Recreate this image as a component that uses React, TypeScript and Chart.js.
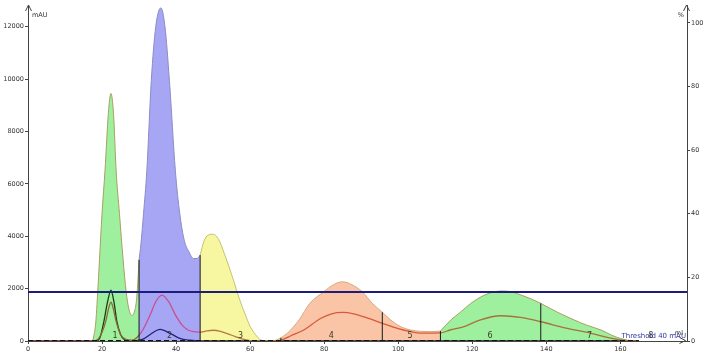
import React, { useEffect, useRef } from "react";
import { Chart, registerables } from "chart.js";

Chart.register(...registerables);

// ---- Main UV trace (mAU) ----
const uvVolume = [
  0, 16, 17.5, 18.3, 18.8, 19.3, 20.0, 20.8, 21.7, 22.4, 23.1, 23.8, 24.7, 25.7, 26.5, 27.2, 28.1, 28.8, 29.4,
  30.0, 30.5, 31.2, 32.1, 33.3, 34.5, 35.9, 37.0, 38.2, 39.8, 41.0, 42.2, 43.5, 44.7, 45.7,
  46.5, 47.5, 48.7, 50.0, 51.5, 53.0, 54.5, 55.5, 57.0, 58.7, 60.0, 61.0, 62.5, 64.0, 66.0,
  68.3, 70.0, 73.2, 76.1, 79.9, 82.5, 84.9, 87.5, 90.3, 93.0, 95.7, 98.0, 100.5, 103.4, 106.0, 109.0,
  111.4, 114.2, 116.8, 119.6, 123.3, 126.0, 128.2, 130.5, 133.2, 136.0, 138.5, 143.0, 147.6, 151.0, 154.8, 158.0, 162.0, 165.0, 178.0,
];
const uvMau = [
  0, 0, 0, 700, 1800, 3086, 4876, 6514, 8686, 9450, 8686, 6514, 4876, 3086, 1900, 1250, 970, 1150, 1700,
  3100, 3700, 4864, 6514, 9943, 12000, 12720, 12000, 9943, 6514, 4864, 3848, 3400, 3150, 3150,
  3280, 3800, 4050, 4076, 3880, 3350, 2750, 2324, 1650, 1000, 560, 330, 80, 0, 0,
  120, 290, 800, 1436, 1880, 2150, 2260, 2150, 1880, 1436, 1100, 800, 560, 420, 370, 360,
  380, 800, 1100, 1436, 1752, 1880, 1910, 1880, 1752, 1600, 1436, 1100, 800, 600, 420, 200, 30, 0, 0,
];

// ---- Second UV trace (red) ----
const uv2Volume = [
  0, 17.5, 19, 20, 21, 21.7, 22.4, 23.1, 23.8, 25, 26.5, 28, 29, 30, 31, 33, 34.5, 36.2, 38, 39.8, 42, 44.7,
  46.5, 48, 50, 52, 55, 58, 60, 62, 66, 68.3, 71, 74.5, 79, 82, 84.9, 88, 92, 95.7, 100, 103.4, 106, 111.4,
  114, 117.8, 122, 127.8, 133, 138.6, 145, 152.1, 157, 162, 165,
];
const uv2Mau = [
  0, 0, 80, 330, 750, 1200, 1480, 1200, 750, 250, 60, 30, 80, 220, 420, 1000, 1500, 1752, 1500, 1000, 550, 355,
  340, 380, 410, 370, 220, 70, 15, 0, 0, 30, 200, 420, 860, 1040, 1093, 1040, 860, 674, 470, 355, 300, 310,
  420, 545, 800, 964, 900, 735, 500, 293, 120, 10, 0,
];

// ---- Third trace (black) ----
const uv3Volume = [0, 18.5, 19.5, 20.5, 21.5, 22.4, 23.2, 24, 25, 26, 27, 28.5, 30, 31.5, 33, 35.7, 38.5, 41, 43.5, 46, 48, 165];
const uv3Mau = [0, 0, 150, 750, 1500, 1943, 1500, 750, 250, 60, 10, 0, 30, 100, 250, 445, 280, 100, 30, 5, 0, 0];

// ---- Fractions ----
const fractionEdges = [17.5, 30, 46.5, 68.3, 95.7, 111.4, 138.5, 165];
const fractionNames = ["1", "2", "3", "4", "5", "6", "7", "8"];
const fractionLabelX = [23.5, 38.2, 57.4, 81.9, 103.2, 124.8, 151.7, 168.2];
const fractionFills = ["#9ef09e", "#a6a6f5", "#f7f7a2", "#f9c5a6", "#f9c5a6", "#9ef09e", "#9ef09e"];
const fractionEdgeColors = ["#a8a060", "#8c8cc4", "#c8c070", "#d8a882", "#d8a882", "#a8a060", "#a8a060"];
const uv2ColorsByFraction = ["#8c6a34", "#c8508c", "#b47a44", "#d85a3a", "#d85a3a", "#a8703a", "#a8703a"];
const uv3ColorsByFraction = ["#1c3e1c", "#22227a", "#222", "#222", "#222", "#222", "#222"];

// ---- Threshold ----
const thresholdMau = 1870;
const thresholdText = "Threshold 40 mAU";

// ---- Axes ----
const xTicks = [0, 20, 40, 60, 80, 100, 120, 140, 160];
const leftTicks = [0, 2000, 4000, 6000, 8000, 10000, 12000];
const rightTicks = [0, 20, 40, 60, 80, 100];
const xMin = 0, xMax = 178;
const leftMax = 12830;
const rightMax = 105.6;

const AXIS = "#444";
const TICK_FONT = { family: "'DejaVu Sans', sans-serif", size: 6.5 };

function pts(xs: number[], ys: number[]) {
  return xs.map((x, i) => ({ x, y: ys[i] }));
}

function uvAt(v: number) {
  const i = uvVolume.indexOf(v);
  return i >= 0 ? uvMau[i] : 0;
}

function colorByFraction(x: number, colors: string[], fallback: string) {
  for (let i = 0; i < colors.length; i++) {
    if (x >= fractionEdges[i] && x < fractionEdges[i + 1]) return colors[i];
  }
  return fallback;
}

const overlayPlugin = {
  id: "overlay",
  afterDatasetsDraw(chart: any) {
    const { ctx, chartArea, scales } = chart;
    const sx = scales.x;
    const sy = scales.y;
    ctx.save();
    // threshold text
    ctx.font = "7px 'DejaVu Sans', sans-serif";
    ctx.fillStyle = "#3535a8";
    ctx.textAlign = "right";
    ctx.textBaseline = "middle";
    ctx.fillText(thresholdText, chartArea.right - 1, chartArea.bottom - 5);
    // fraction labels
    ctx.font = "8px 'DejaVu Sans', sans-serif";
    ctx.fillStyle = "#3a3a2a";
    ctx.textAlign = "center";
    fractionNames.forEach((n, i) => {
      ctx.fillText(n, sx.getPixelForValue(fractionLabelX[i]), sy.getPixelForValue(0) - 5);
    });
    // axis titles
    ctx.font = "6.5px 'DejaVu Sans', sans-serif";
    ctx.fillStyle = "#333";
    ctx.textAlign = "left";
    ctx.fillText("mAU", chartArea.left + 4, chartArea.top + 10);
    ctx.textAlign = "right";
    ctx.fillText("%", chartArea.right - 3, chartArea.top + 10);
    ctx.fillText("ml", chartArea.right - 4, chartArea.bottom - 8);
    // arrows
    ctx.strokeStyle = AXIS;
    ctx.lineWidth = 1;
    const L = chartArea.left + 0.5, R = chartArea.right - 0.5, T = chartArea.top, B = chartArea.bottom - 0.5;
    ctx.beginPath();
    ctx.moveTo(L - 3, T + 6); ctx.lineTo(L, T); ctx.lineTo(L + 3, T + 6);
    ctx.moveTo(R - 3, T + 6); ctx.lineTo(R, T); ctx.lineTo(R + 3, T + 6);
    ctx.moveTo(R - 7, B - 3); ctx.lineTo(R - 1, B); ctx.lineTo(R - 7, B + 3);
    ctx.stroke();
    ctx.restore();
  },
};

export default function App() {
  const ref = useRef<HTMLCanvasElement>(null);
  useEffect(() => {
    if (!ref.current) return;
    const uvPts = pts(uvVolume, uvMau);
    const fillSets = fractionFills.map((color, i) => ({
      data: uvPts.filter((p) => p.x >= fractionEdges[i] && p.x <= fractionEdges[i + 1]),
      borderColor: fractionEdgeColors[i],
      borderWidth: 1,
      backgroundColor: color,
      fill: "origin",
      cubicInterpolationMode: "monotone",
      pointRadius: 0,
      order: 3,
      yAxisID: "y",
    }));
    const vlineData: any[] = [];
    fractionEdges.forEach((e) => {
      vlineData.push({ x: e, y: 0 }, { x: e, y: uvAt(e) }, { x: e, y: null });
    });
    const chart = new Chart(ref.current, {
      type: "line",
      data: {
        datasets: [
          {
            data: [{ x: xMin, y: thresholdMau }, { x: xMax, y: thresholdMau }],
            borderColor: "#1c1c7c",
            borderWidth: 2,
            pointRadius: 0,
            fill: false,
            order: 0,
            yAxisID: "y",
          },
          {
            data: vlineData,
            borderColor: "#151515",
            borderWidth: 1,
            pointRadius: 0,
            fill: false,
            spanGaps: false,
            tension: 0,
            order: 1,
            yAxisID: "y",
          },
          {
            data: [{ x: xMin, y: 0 }, { x: fractionEdges[fractionEdges.length - 1], y: 0 }],
            borderColor: "#111",
            borderWidth: 2,
            borderDash: [5, 3],
            pointRadius: 0,
            fill: false,
            order: 0,
            yAxisID: "y",
          },
          ...fillSets,
          {
            data: pts(uv2Volume, uv2Mau),
            borderColor: "#c04040",
            segment: { borderColor: (c: any) => colorByFraction(c.p0.parsed.x, uv2ColorsByFraction, "#c04040") },
            borderWidth: 1.3,
            pointRadius: 0,
            fill: false,
            cubicInterpolationMode: "monotone",
            order: 2,
            yAxisID: "y",
          },
          {
            data: pts(uv3Volume, uv3Mau),
            borderColor: "#222",
            segment: { borderColor: (c: any) => colorByFraction(c.p0.parsed.x, uv3ColorsByFraction, "#222") },
            borderWidth: 1.3,
            pointRadius: 0,
            fill: false,
            cubicInterpolationMode: "monotone",
            order: 2,
            yAxisID: "y",
          },
        ] as any,
      },
      options: {
        responsive: false,
        animation: false,
        devicePixelRatio: 1,
        layout: { padding: { top: 5, left: 0, right: 0, bottom: 0 }, autoPadding: false } as any,
        plugins: { legend: { display: false }, tooltip: { enabled: false } },
        elements: { point: { radius: 0 } },
        scales: {
          x: {
            type: "linear",
            min: xMin,
            max: xMax,
            afterBuildTicks: (s: any) => { s.ticks = xTicks.map((v) => ({ value: v })); },
            afterFit: (s: any) => { s.height = 15; },
            grid: { drawOnChartArea: false, drawTicks: true, tickLength: 3, color: AXIS },
            border: { color: AXIS, width: 1 },
            ticks: { font: TICK_FONT, color: "#333", padding: 1, maxRotation: 0, autoSkip: false, callback: (v: any) => String(v) },
          },
          y: {
            type: "linear",
            position: "left",
            min: 0,
            max: leftMax,
            afterBuildTicks: (s: any) => { s.ticks = leftTicks.map((v) => ({ value: v })); },
            afterFit: (s: any) => { s.width = 28; },
            grid: { drawOnChartArea: false, drawTicks: true, tickLength: 3, color: AXIS },
            border: { color: AXIS, width: 1 },
            ticks: { font: TICK_FONT, color: "#333", padding: 1, autoSkip: false, callback: (v: any) => String(v) },
          },
          y1: {
            type: "linear",
            position: "right",
            min: 0,
            max: rightMax,
            afterBuildTicks: (s: any) => { s.ticks = rightTicks.map((v) => ({ value: v })); },
            afterFit: (s: any) => { s.width = 23; },
            grid: { drawOnChartArea: false, drawTicks: true, tickLength: 3, color: AXIS },
            border: { color: AXIS, width: 1 },
            ticks: { font: TICK_FONT, color: "#333", padding: 1, autoSkip: false, callback: (v: any) => String(v) },
          },
        },
      } as any,
      plugins: [overlayPlugin],
    });
    return () => chart.destroy();
  }, []);
  return (
    <div style={{ position: "fixed", left: 0, top: 0, width: 710, height: 356, background: "#fff" }}>
      <canvas ref={ref} width={710} height={356} style={{ display: "block" }} />
    </div>
  );
}
